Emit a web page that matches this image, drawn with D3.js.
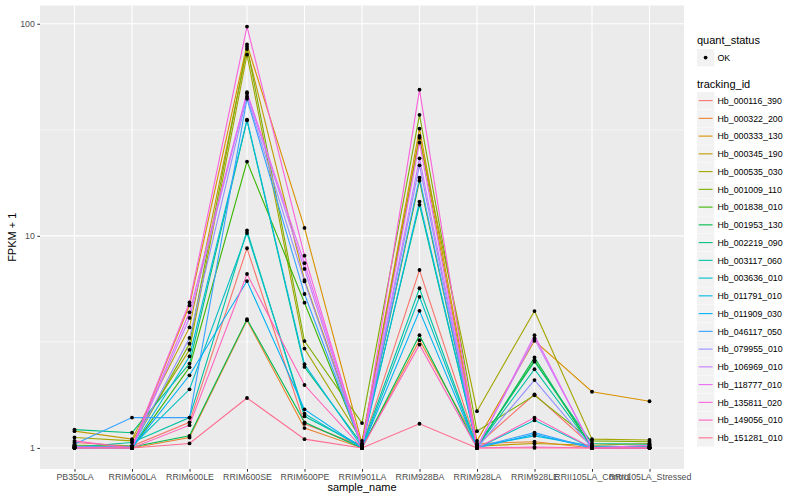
<!DOCTYPE html>
<html>
<head>
<meta charset="utf-8">
<script src="https://cdn.jsdelivr.net/npm/d3@7"></script>
<style>
  body { margin: 0; background: #fff; }
  text { font-family: "Liberation Sans", Arial, sans-serif; }
</style>
</head>
<body>
<svg id="chart"></svg>
<script>
// samples on the x axis
const samples = ["PB350LA", "RRIM600LA", "RRIM600LE", "RRIM600SE", "RRIM600PE", "RRIM901LA",
  "RRIM928BA", "RRIM928LA", "RRIM928LE", "RRII105LA_Control", "RRII105LA_Stressed"];

const trackingIds = ["Hb_000116_390", "Hb_000322_200", "Hb_000333_130", "Hb_000345_190", "Hb_000535_030",
  "Hb_001009_110", "Hb_001838_010", "Hb_001953_130", "Hb_002219_090", "Hb_003117_060",
  "Hb_003636_010", "Hb_011791_010", "Hb_011909_030", "Hb_046117_050", "Hb_079955_010",
  "Hb_106969_010", "Hb_118777_010", "Hb_135811_020", "Hb_149056_010", "Hb_151281_010"];

// ggplot default hue palette (20)
const colors = ["#F8766D", "#EA8331", "#D89000", "#C09B00", "#A3A500", "#7CAE00", "#39B600", "#00BB4E",
  "#00BF7D", "#00C1A3", "#00BFC4", "#00BAE0", "#00B0F6", "#35A2FF", "#9590FF", "#C77CFF",
  "#E76BF3", "#FA62DB", "#FF62BC", "#FF6C91"];

// FPKM + 1, one row per tracking_id, one value per sample
const fpkm = [
  [1.06, 1.02, 1.32, 8.74, 1.30, 1.02, 6.90, 1.03, 1.79, 1.02, 1.01],
  [1.00, 1.00, 1.12, 4.00, 1.24, 1.00, 3.22, 1.05, 1.07, 1.00, 1.00],
  [1.02, 1.01, 4.70, 80.0, 10.9, 1.05, 32.0, 1.08, 3.20, 1.84, 1.66],
  [1.20, 1.10, 3.70, 76.0, 6.19, 1.03, 29.6, 1.02, 1.05, 1.03, 1.05],
  [1.12, 1.08, 2.90, 71.5, 2.94, 1.08, 29.0, 1.49, 4.42, 1.10, 1.09],
  [1.03, 1.02, 3.10, 78.0, 3.19, 1.31, 37.2, 1.20, 1.77, 1.08, 1.07],
  [1.01, 1.00, 2.40, 22.4, 4.84, 1.02, 18.2, 1.01, 2.59, 1.01, 1.02],
  [1.00, 1.01, 1.14, 4.05, 1.32, 1.00, 3.40, 1.00, 2.67, 1.00, 1.00],
  [1.22, 1.18, 2.50, 35.0, 2.41, 1.04, 14.0, 1.02, 2.55, 1.05, 1.04],
  [1.01, 1.06, 1.39, 10.6, 1.41, 1.02, 5.66, 1.01, 2.35, 1.01, 1.00],
  [1.00, 1.02, 1.89, 10.3, 1.45, 1.00, 5.16, 1.00, 1.35, 1.00, 1.00],
  [1.02, 1.00, 2.70, 35.3, 2.48, 1.01, 14.5, 1.02, 1.14, 1.02, 1.01],
  [1.00, 1.00, 2.20, 6.12, 1.52, 1.00, 4.43, 1.00, 1.16, 1.00, 1.00],
  [1.04, 1.39, 1.39, 44.3, 5.32, 1.01, 18.8, 1.01, 1.18, 1.00, 1.00],
  [1.01, 1.01, 3.30, 45.4, 6.10, 1.00, 21.5, 1.00, 2.09, 1.00, 1.01],
  [1.00, 1.00, 4.10, 46.9, 6.98, 1.00, 23.2, 1.01, 3.28, 1.01, 1.00],
  [1.01, 1.00, 4.36, 47.6, 7.43, 1.02, 27.5, 1.00, 3.40, 1.00, 1.03],
  [1.00, 1.01, 4.85, 97.0, 8.06, 1.00, 48.9, 1.00, 1.01, 1.00, 1.00],
  [1.08, 1.00, 1.28, 6.61, 1.98, 1.00, 3.07, 1.00, 1.39, 1.00, 1.00],
  [1.00, 1.00, 1.05, 1.72, 1.10, 1.00, 1.30, 1.00, 1.00, 1.00, 1.00]
];

const yTicks = [1, 10, 100];
const yMinor = [Math.sqrt(10), Math.sqrt(1000)];

const width = 800, height = 500;
const margin = { top: 5.5, right: 116, bottom: 31, left: 40 };

const svg = d3.select("#chart").attr("width", width).attr("height", height);

const series = trackingIds.map((id, i) => ({
  id, color: colors[i],
  values: samples.map((s, j) => ({ sample: s, value: fpkm[i][j] }))
}));

// scales
const x = d3.scalePoint()
  .domain(samples)
  .range([margin.left, width - margin.right])
  .padding(0.6);

const ext = d3.extent(fpkm.flat());
const lo = Math.log10(ext[0]), hi = Math.log10(ext[1]);
const pad = (hi - lo) * 0.05;
const y = d3.scaleLog()
  .domain([Math.pow(10, lo - pad), Math.pow(10, hi + pad)])
  .range([height - margin.bottom, margin.top]);

// panel
svg.append("rect")
  .attr("x", margin.left).attr("y", margin.top)
  .attr("width", width - margin.right - margin.left)
  .attr("height", height - margin.bottom - margin.top)
  .attr("fill", "#EBEBEB");

// grid
svg.append("g").selectAll("line").data(yMinor).enter().append("line")
  .attr("x1", margin.left).attr("x2", width - margin.right)
  .attr("y1", d => y(d)).attr("y2", d => y(d))
  .attr("stroke", "#fff").attr("stroke-width", 0.55);
svg.append("g").selectAll("line").data(yTicks).enter().append("line")
  .attr("x1", margin.left).attr("x2", width - margin.right)
  .attr("y1", d => y(d)).attr("y2", d => y(d))
  .attr("stroke", "#fff").attr("stroke-width", 1.1);
svg.append("g").selectAll("line").data(samples).enter().append("line")
  .attr("x1", d => x(d)).attr("x2", d => x(d))
  .attr("y1", margin.top).attr("y2", height - margin.bottom)
  .attr("stroke", "#fff").attr("stroke-width", 1.1);

// lines
const line = d3.line().x(d => x(d.sample)).y(d => y(d.value));
svg.append("g").selectAll("path").data(series).enter().append("path")
  .attr("d", d => line(d.values))
  .attr("fill", "none")
  .attr("stroke", d => d.color)
  .attr("stroke-width", 1.1);

// points
svg.append("g").selectAll("circle").data(series.flatMap(d => d.values)).enter().append("circle")
  .attr("cx", d => x(d.sample)).attr("cy", d => y(d.value))
  .attr("r", 1.9).attr("fill", "#000");

// axes
const xAxis = svg.append("g")
  .attr("transform", `translate(0,${height - margin.bottom})`)
  .call(d3.axisBottom(x).tickSize(2.7).tickPadding(2.5));
const yAxis = svg.append("g")
  .attr("transform", `translate(${margin.left},0)`)
  .call(d3.axisLeft(y).tickValues(yTicks).tickFormat(d3.format("d")).tickSize(2.7).tickPadding(2.5));
[xAxis, yAxis].forEach(g => {
  g.select(".domain").remove();
  g.selectAll(".tick line").attr("stroke", "#333");
  g.selectAll(".tick text").attr("fill", "#4D4D4D").style("font-size", "8.8px");
});

// axis titles
svg.append("text")
  .attr("x", (margin.left + width - margin.right) / 2)
  .attr("y", height - 9)
  .attr("text-anchor", "middle")
  .style("font-size", "11px")
  .text("sample_name");
svg.append("text")
  .attr("transform", "rotate(-90)")
  .attr("x", -(margin.top + height - margin.bottom) / 2)
  .attr("y", 16)
  .attr("text-anchor", "middle")
  .style("font-size", "11px")
  .text("FPKM + 1");

// legend
const lx = 697;
const legend = svg.append("g");
legend.append("text").attr("x", lx).attr("y", 44).style("font-size", "11px").text("quant_status");
legend.append("rect").attr("x", lx).attr("y", 49).attr("width", 17.3).attr("height", 17.3).attr("fill", "#F2F2F2");
legend.append("circle").attr("cx", lx + 8.6).attr("cy", 57.6).attr("r", 1.9).attr("fill", "#000");
legend.append("text").attr("x", lx + 20.5).attr("y", 60.8).style("font-size", "8.8px").text("OK");

legend.append("text").attr("x", lx).attr("y", 88).style("font-size", "11px").text("tracking_id");
const items = legend.selectAll("g.item").data(series).enter().append("g")
  .attr("class", "item")
  .attr("transform", (d, i) => `translate(${lx},${92 + i * 17.75})`);
items.append("rect").attr("width", 17.3).attr("height", 17.3).attr("fill", "#F2F2F2");
items.append("line").attr("x1", 1.7).attr("x2", 15.6).attr("y1", 8.6).attr("y2", 8.6)
  .attr("stroke", d => d.color).attr("stroke-width", 1.1);
items.append("text").attr("x", 20.5).attr("y", 11.8).style("font-size", "8.8px").text(d => d.id);
</script>
</body>
</html>
